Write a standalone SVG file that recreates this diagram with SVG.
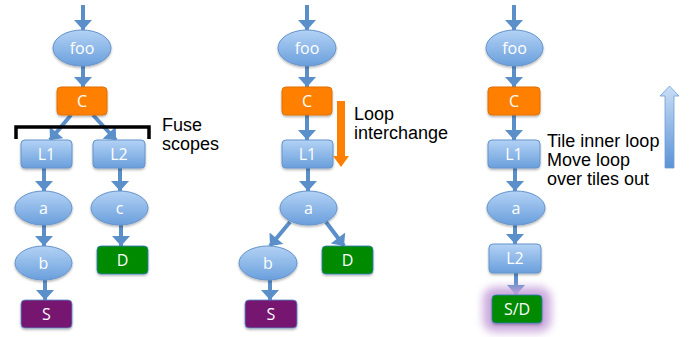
<svg xmlns="http://www.w3.org/2000/svg" width="689" height="337" viewBox="0 0 689 337">
<defs>
<linearGradient id="gBlue" x1="0" y1="0" x2="0" y2="1">
<stop offset="0" stop-color="#b3d2f5"/>
<stop offset="1" stop-color="#6a9fdc"/>
</linearGradient>
<linearGradient id="gUp" x1="0" y1="0" x2="0" y2="1">
<stop offset="0" stop-color="#c9def6"/>
<stop offset="1" stop-color="#5b93d6"/>
</linearGradient>
<filter id="shadow" x="-20%" y="-20%" width="140%" height="150%">
<feDropShadow dx="0" dy="1.5" stdDeviation="1.2" flood-color="#000" flood-opacity="0.3"/>
</filter>
<filter id="glow" x="-50%" y="-50%" width="200%" height="200%">
<feGaussianBlur stdDeviation="4"/>
</filter>
<marker id="ah" markerUnits="userSpaceOnUse" markerWidth="18" markerHeight="18" viewBox="0 0 10 18" refX="10" refY="9" orient="auto">
<path d="M0,0 L10,9 L0,18 Z" fill="#5b8fc9"/>
</marker>
</defs>
<style>
.ell{fill:url(#gBlue);stroke:#6594cc;stroke-width:1;filter:url(#shadow)}
.lp{fill:url(#gBlue);stroke:#6594cc;stroke-width:1;filter:url(#shadow)}
.org{fill:#ff7f00;stroke:#e07000;stroke-width:1;filter:url(#shadow)}
.grn{fill:#008a00;stroke:#2f7ac0;stroke-width:0.8;filter:url(#shadow)}
.pur{fill:#76166f;stroke:#5c8fcb;stroke-width:0.8;filter:url(#shadow)}
.lbl{font-family:"Open Sans","Liberation Sans",sans-serif;font-size:16px;fill:#fff;text-anchor:middle}
.cap{font-family:"Liberation Sans",Arial,sans-serif;font-size:18px;fill:#000}
.con line{stroke:#5b8fc9;stroke-width:4;marker-end:url(#ah)}
</style>

<g id="connectors" class="con">
<!-- panel 1 -->
<line x1="83" y1="5" x2="83" y2="30"/>
<line x1="83" y1="66" x2="83" y2="87"/>
<line x1="71" y1="115" x2="50" y2="140"/>
<line x1="93" y1="115" x2="116" y2="140"/>
<line x1="44" y1="168" x2="44" y2="191"/>
<line x1="44" y1="225" x2="44" y2="246"/>
<line x1="45" y1="280" x2="45" y2="300"/>
<line x1="120" y1="168" x2="120" y2="191"/>
<line x1="121" y1="225" x2="121" y2="246"/>
<!-- panel 2 -->
<line x1="307" y1="5" x2="307" y2="30"/>
<line x1="307" y1="66" x2="307" y2="87"/>
<line x1="307" y1="115" x2="307" y2="140"/>
<line x1="308" y1="168" x2="308" y2="191"/>
<line x1="290" y1="222" x2="270" y2="246"/>
<line x1="326" y1="222" x2="344" y2="246"/>
<line x1="270" y1="280" x2="270" y2="300"/>
<!-- panel 3 -->
<line x1="514" y1="5" x2="514" y2="30"/>
<line x1="514" y1="66" x2="514" y2="87"/>
<line x1="514" y1="115" x2="514" y2="140"/>
<line x1="515" y1="168" x2="515" y2="191"/>
<line x1="515" y1="225" x2="515" y2="244"/>
<line x1="516" y1="273" x2="516" y2="295"/>
</g>

<!-- panel 1 -->
<g id="p1-foo"><ellipse class="ell" cx="82" cy="48" rx="29" ry="18"/><text class="lbl" x="82" y="54">foo</text></g>
<g id="p1-C"><rect class="org" x="57" y="87" width="50" height="28" rx="4"/><text class="lbl" x="82" y="107">C</text></g>
<g id="p1-L1"><rect class="lp" x="21" y="140" width="51" height="28" rx="4"/><text class="lbl" x="46.5" y="160">L1</text></g>
<g id="p1-L2"><rect class="lp" x="93" y="140" width="52" height="28" rx="4"/><text class="lbl" x="119" y="160">L2</text></g>
<g id="p1-a"><ellipse class="ell" cx="43.5" cy="208" rx="28.5" ry="17"/><text class="lbl" x="43.5" y="214">a</text></g>
<g id="p1-b"><ellipse class="ell" cx="43.5" cy="263" rx="28.5" ry="17"/><text class="lbl" x="43.5" y="269">b</text></g>
<g id="p1-S"><rect class="pur" x="21" y="300" width="51" height="28" rx="4"/><text class="lbl" x="46.5" y="320">S</text></g>
<g id="p1-c"><ellipse class="ell" cx="119.5" cy="208" rx="28.5" ry="17"/><text class="lbl" x="119.5" y="214">c</text></g>
<g id="p1-D"><rect class="grn" x="97" y="246" width="51" height="28" rx="4"/><text class="lbl" x="122.5" y="266">D</text></g>
<g id="p1-bracket"><path d="M16,139 L16,127 L149,127 L149,139" fill="none" stroke="#000" stroke-width="3.5"/></g>
<g id="p1-caption"><text class="cap" x="162" y="131">Fuse</text><text class="cap" x="162" y="150">scopes</text></g>

<!-- panel 2 -->
<g id="p2-foo"><ellipse class="ell" cx="307" cy="48" rx="29" ry="18"/><text class="lbl" x="307" y="54">foo</text></g>
<g id="p2-C"><rect class="org" x="282" y="87" width="50" height="28" rx="4"/><text class="lbl" x="307" y="107">C</text></g>
<g id="p2-L1"><rect class="lp" x="282" y="140" width="51" height="28" rx="4"/><text class="lbl" x="307.5" y="160">L1</text></g>
<g id="p2-a"><ellipse class="ell" cx="308.5" cy="208" rx="28.5" ry="17"/><text class="lbl" x="308.5" y="214">a</text></g>
<g id="p2-b"><ellipse class="ell" cx="268" cy="263" rx="29" ry="17"/><text class="lbl" x="268" y="269">b</text></g>
<g id="p2-D"><rect class="grn" x="322" y="246" width="51" height="28" rx="4"/><text class="lbl" x="347.5" y="266">D</text></g>
<g id="p2-S"><rect class="pur" x="245" y="300" width="52" height="28" rx="4"/><text class="lbl" x="271" y="320">S</text></g>
<g id="p2-arrow"><polygon points="337,101 345,101 345,156 349,156 341,167 333,156 337,156" fill="#ff7f00"/></g>
<g id="p2-caption"><text class="cap" x="354" y="120">Loop</text><text class="cap" x="354" y="139">interchange</text></g>

<!-- panel 3 -->
<g id="p3-foo"><ellipse class="ell" cx="514.5" cy="48" rx="28.5" ry="18"/><text class="lbl" x="514.5" y="54">foo</text></g>
<g id="p3-C"><rect class="org" x="488" y="87" width="52" height="28" rx="4"/><text class="lbl" x="514" y="107">C</text></g>
<g id="p3-L1"><rect class="lp" x="488" y="140" width="52" height="28" rx="4"/><text class="lbl" x="514" y="160">L1</text></g>
<g id="p3-a"><ellipse class="ell" cx="516" cy="208" rx="29" ry="17"/><text class="lbl" x="516" y="214">a</text></g>
<g id="p3-L2"><rect class="lp" x="489" y="244" width="52" height="29" rx="4"/><text class="lbl" x="515" y="264">L2</text></g>
<g id="p3-SD"><rect x="483" y="287" width="68" height="45" rx="12" fill="#c6a2da" opacity="0.9" filter="url(#glow)"/><rect class="grn" x="492" y="295" width="50" height="28" rx="4"/><text class="lbl" x="517" y="315">S/D</text></g>
<g id="p3-arrow"><polygon points="665,168 665,96 660,96 669.5,86 679,96 674,96 674,168" fill="url(#gUp)" stroke="#6d9dd6" stroke-width="0.8"/></g>
<g id="p3-caption"><text class="cap" x="547" y="147">Tile inner loop</text><text class="cap" x="547" y="166">Move loop</text><text class="cap" x="547" y="185">over tiles out</text></g>
</svg>
